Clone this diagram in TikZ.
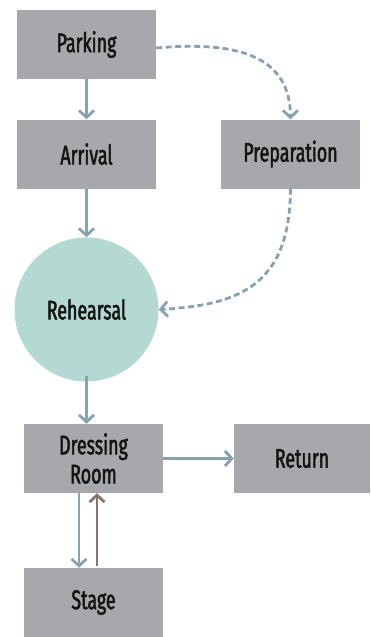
\documentclass[tikz,border=0pt]{standalone}
\usepackage{fontspec}
\setmainfont{Fira Sans}[FakeStretch=0.66, FakeBold=1.8]
\usetikzlibrary{arrows.meta}
\definecolor{boxgray}{HTML}{A7A8AC}
\definecolor{teal}{HTML}{B3D9D2}
\definecolor{flow}{HTML}{87A2AE}
\definecolor{back}{HTML}{8A716A}
\tikzset{
  stepbox/.style={rectangle, fill=boxgray, inner sep=0pt, minimum width=139pt, minimum height=69pt, font=\fontsize{27}{29}\selectfont, text=black!92, align=center},
  roundstep/.style={circle, fill=teal, inner sep=0pt, minimum size=144pt, font=\fontsize{27}{29}\selectfont, text=black!92},
  link/.style={draw=flow, line width=2.8pt, -{Straight Barb[length=7pt, width=15pt, line width=2.8pt]}},
  backlink/.style={link, draw=back},
  optlink/.style={link, dash pattern=on 6pt off 3.5pt},
}
\begin{document}
\begin{tikzpicture}[x=1pt, y=-1pt]
  \useasboundingbox (0,0) rectangle (370,637);
  \node[stepbox] (parking) at (86.5,44.5) {Parking};
  \node[stepbox] (arrival) at (86.5,154) {Arrival};
  \node[stepbox] (prep) at (290.5,154) {Preparation};
  \node[roundstep] (rehearsal) at (86.5,309.5) {Rehearsal};
  \node[stepbox] (dressing) at (93.5,458.5) {Dressing\\Room};
  \node[stepbox, minimum width=136pt] (return) at (302,458.5) {Return};
  \node[stepbox] (stage) at (93.5,602.5) {Stage};

  \draw[link] (parking.south) -- (arrival.north);
  \draw[link] (arrival.south) -- (rehearsal.north);
  \draw[link] ([yshift=6pt]rehearsal.south) -- (rehearsal.south |- dressing.north);
  \draw[link] (dressing.east) -- (return.west);
  \draw[link] ([xshift=-14.5pt]dressing.south) -- ([xshift=-14.5pt]stage.north);
  \draw[backlink] ([xshift=3.5pt,yshift=2pt]stage.north) -- ([xshift=3.5pt]dressing.south);
  \draw[optlink] ([yshift=-3.5pt]parking.east) .. controls (245,40) and (290,60) .. (prep.north);
  \draw[optlink] (prep.south) .. controls (290,285) and (240,305) .. (rehearsal.east);
\end{tikzpicture}
\end{document}
